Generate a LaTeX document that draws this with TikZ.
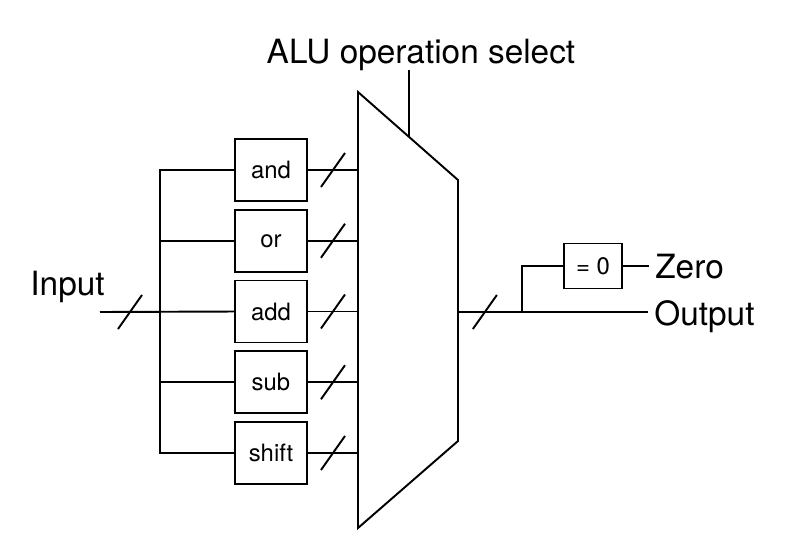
\documentclass[tikz,border=0pt]{standalone}
\usepackage{fontspec}
\setmainfont{TeX Gyre Heros}
\usetikzlibrary{calc}
\tikzstyle{wire}=[line width=1.1pt]
\tikzstyle{opbox}=[draw,line width=1.1pt,minimum width=1.44cm,minimum height=1.24cm,inner sep=0pt,font=\fontsize{13.6}{16}\selectfont]
\tikzstyle{biglabel}=[inner sep=0pt,text height=13.7pt,text depth=0pt,font=\fontsize{19}{23}\selectfont]
\newcommand{\busslash}[1]{
\draw[wire] (#1) +(-12,17) -- +(12,-17);
}

\begin{document}
\begin{tikzpicture}[x=0.02cm,y=-0.02cm] % one unit = one pixel, y grows downwards
\useasboundingbox (0,0) rectangle (789,556);
% multiplexer
\coordinate (mux-tl) at (358,92);
\coordinate (mux-tr) at (458,180);
\coordinate (mux-br) at (458,441);
\coordinate (mux-bl) at (358,528);
\draw[wire] (mux-tl) -- (mux-tr) -- (mux-br) -- (mux-bl) -- cycle;

% operation boxes and their buses into the mux
\foreach \op [count=\i] in {and,or,add,sub,shift} {
  \pgfmathsetmacro{\y}{170+70.75*(\i-1)}
  \node[opbox] (\op) at (271,\y) {\op};
  \coordinate (\op-in) at (\op.east -| mux-tl);
  \draw[wire] (\op.east) -- (\op-in);
  \busslash{$(\op.east)!0.5!(\op-in)$}
}

% input bus
\node[biglabel] (input) at (67.5,283) {Input};
\coordinate (in) at (100,312);
\coordinate (bus-top) at (160,170);
\coordinate (bus-bot) at (160,453);
\coordinate (bus-add) at (160,312);
\draw[wire] (and.west) -- (bus-top) -- (bus-bot) -- (shift.west);
\foreach \op in {or,sub} \draw[wire] (bus-top |- \op.west) -- (\op.west);
\draw[wire] (in) -- (add.west);
\busslash{$(in)!0.5!(bus-add)$}

% select line
\coordinate (sel) at ($(mux-tl)!0.51!(mux-tr)$);
\node[biglabel,anchor=base,text depth=4pt] (select) at (421,63) {ALU operation select};
\draw[wire] (select.south -| sel) -- (sel);

% result side
\coordinate (mux-out) at (458,312);
\coordinate (branch) at (522,312);
\node[opbox,minimum width=1.16cm,minimum height=0.9cm] (iszero) at (593,266) {= 0};
\node[biglabel,anchor=west,inner xsep=0.12cm] (zero) at (649,266) {Zero};
\node[biglabel,anchor=west,inner xsep=0.12cm] (output) at (648,313) {Output};
\draw[wire] (mux-out) -- (mux-out -| output.west);
\busslash{$(mux-out)!0.42!(branch)$}
\draw[wire] (branch) |- (iszero.west);
\draw[wire] (iszero.east) -- (zero.west);
\end{tikzpicture}
\end{document}
